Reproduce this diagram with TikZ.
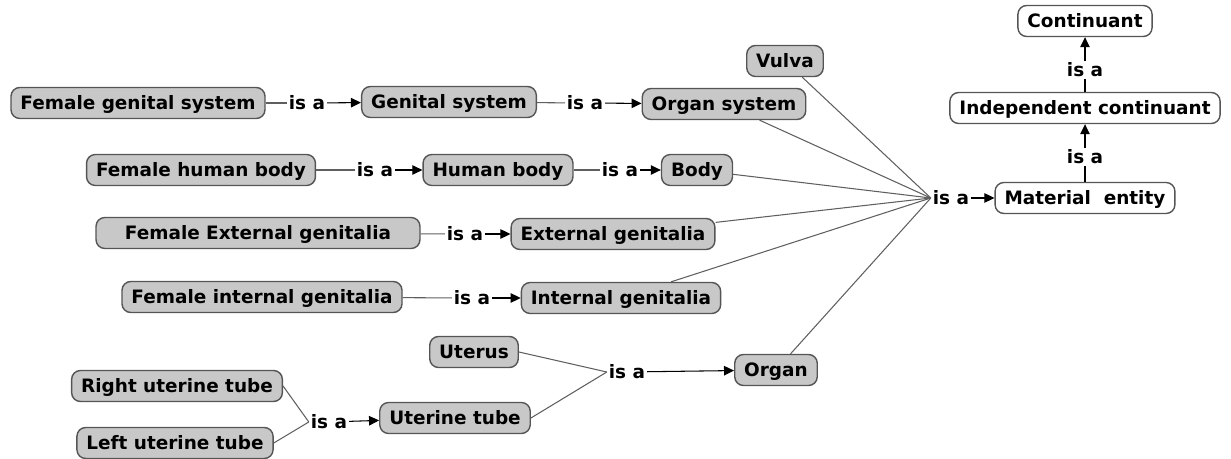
\documentclass[tikz,border=0pt]{standalone}
\usepackage{fontspec}
\setmainfont{DejaVu Sans}
\usetikzlibrary{arrows.meta, positioning}
\definecolor{cBox}{RGB}{200,200,200}
\definecolor{cEdge}{RGB}{85,85,85}
\definecolor{cLine}{RGB}{95,95,95}
\tikzset{
	concept/.style ={rectangle, rounded corners=5pt, draw=cEdge, thick, fill=cBox, minimum height=0.62cm, inner xsep=0.19cm, text height=0.76em, text depth=0.03em, align=center},
	bfo/.style     ={concept, fill=white},
	isa/.style     ={inner sep=1pt},
	link/.style    ={draw=cLine, semithick},
	isarrow/.style ={-{Triangle[length=2mm, width=1.9mm]}, semithick, black},
}
\begin{document}
\begin{tikzpicture}[x=0.02cm, y=-0.02cm, every node/.style={font=\bfseries\fontsize{10.5}{12.6}\selectfont}]
	\useasboundingbox (0,0) rectangle (1231,459);
	% BFO upper levels
	\node[bfo] (cont) at (1085,21) {Continuant};
	\node[bfo] (indep) at (1085,108) {Independent continuant};
	\node[bfo] (mat) at (1085,198) {Material\ \ entity};
	\node[isa] (isaA) at (1085,70) {is a};
	\node[isa] (isaB) at (1085,157) {is a};
	\draw[link, black] (indep) -- (isaA);
	\draw[isarrow] (isaA) -- (cont);
	\draw[link, black] (mat) -- (isaB);
	\draw[isarrow] (isaB) -- (indep);
	% central is a
	\node[isa] (isaC) at (951,198) {is a};
	\draw[isarrow] (isaC) -- (mat);
	% row 1
	\node[concept] (fgs) at (138,103) {Female genital system};
	\node[isa] (isa1) at (307,103) {is a};
	\node[concept] (gs) at (449,102) {Genital system};
	\node[isa] (isa2) at (585,103) {is a};
	\node[concept] (os) at (724,104) {Organ system};
	\node[concept] (vulva) at (785,61) {Vulva};
	\draw[link] (fgs) -- (isa1);
	\draw[isarrow] (isa1) -- (gs);
	\draw[link] (gs) -- (isa2);
	\draw[isarrow] (isa2) -- (os);
	% row 2
	\node[concept] (fhb) at (201,170) {Female human body};
	\node[isa] (isa3) at (375,170) {is a};
	\node[concept] (hb) at (498,170) {Human body};
	\node[isa] (isa4) at (620,170) {is a};
	\node[concept] (body) at (697,170) {Body};
	\draw[link] (fhb) -- (isa3);
	\draw[isarrow] (isa3) -- (hb);
	\draw[link] (hb) -- (isa4);
	\draw[isarrow] (isa4) -- (body);
	% row 3
	\node[concept, minimum width=6.48cm] (feg) at (258,233) {Female External genitalia};
	\node[isa] (isa5) at (465,234) {is a};
	\node[concept] (eg) at (613,234) {External genitalia};
	\draw[link] (feg) -- (isa5);
	\draw[isarrow] (isa5) -- (eg);
	% row 4
	\node[concept] (fig) at (262,297) {Female internal genitalia};
	\node[isa] (isa6) at (472,298) {is a};
	\node[concept] (ig) at (621,298) {Internal genitalia};
	\draw[link] (fig) -- (isa6);
	\draw[isarrow] (isa6) -- (ig);
	% uterus and tubes
	\node[concept] (uterus) at (474,352) {Uterus};
	\node[isa] (isa7) at (627,372) {is a};
	\node[concept] (organ) at (776,370) {Organ};
	\node[concept] (rut) at (177,386) {Right uterine tube};
	\node[concept] (lut) at (175,443) {Left uterine tube};
	\node[isa] (isa8) at (329,422) {is a};
	\node[concept] (ut) at (455,418) {Uterine tube};
	\draw[link] (rut.east) -- (isa8.west);
	\draw[link] (lut.east) -- (isa8.west);
	\draw[isarrow] (isa8) -- (ut);
	\draw[link] (uterus.east) -- (isa7.west);
	\draw[link] (ut.east) -- (isa7.west);
	\draw[isarrow] (isa7) -- (organ);
	% into material entity
	\foreach \src in {vulva, os, body, eg, ig, organ}
		\draw[link] (\src) -- (isaC.west);
\end{tikzpicture}
\end{document}
